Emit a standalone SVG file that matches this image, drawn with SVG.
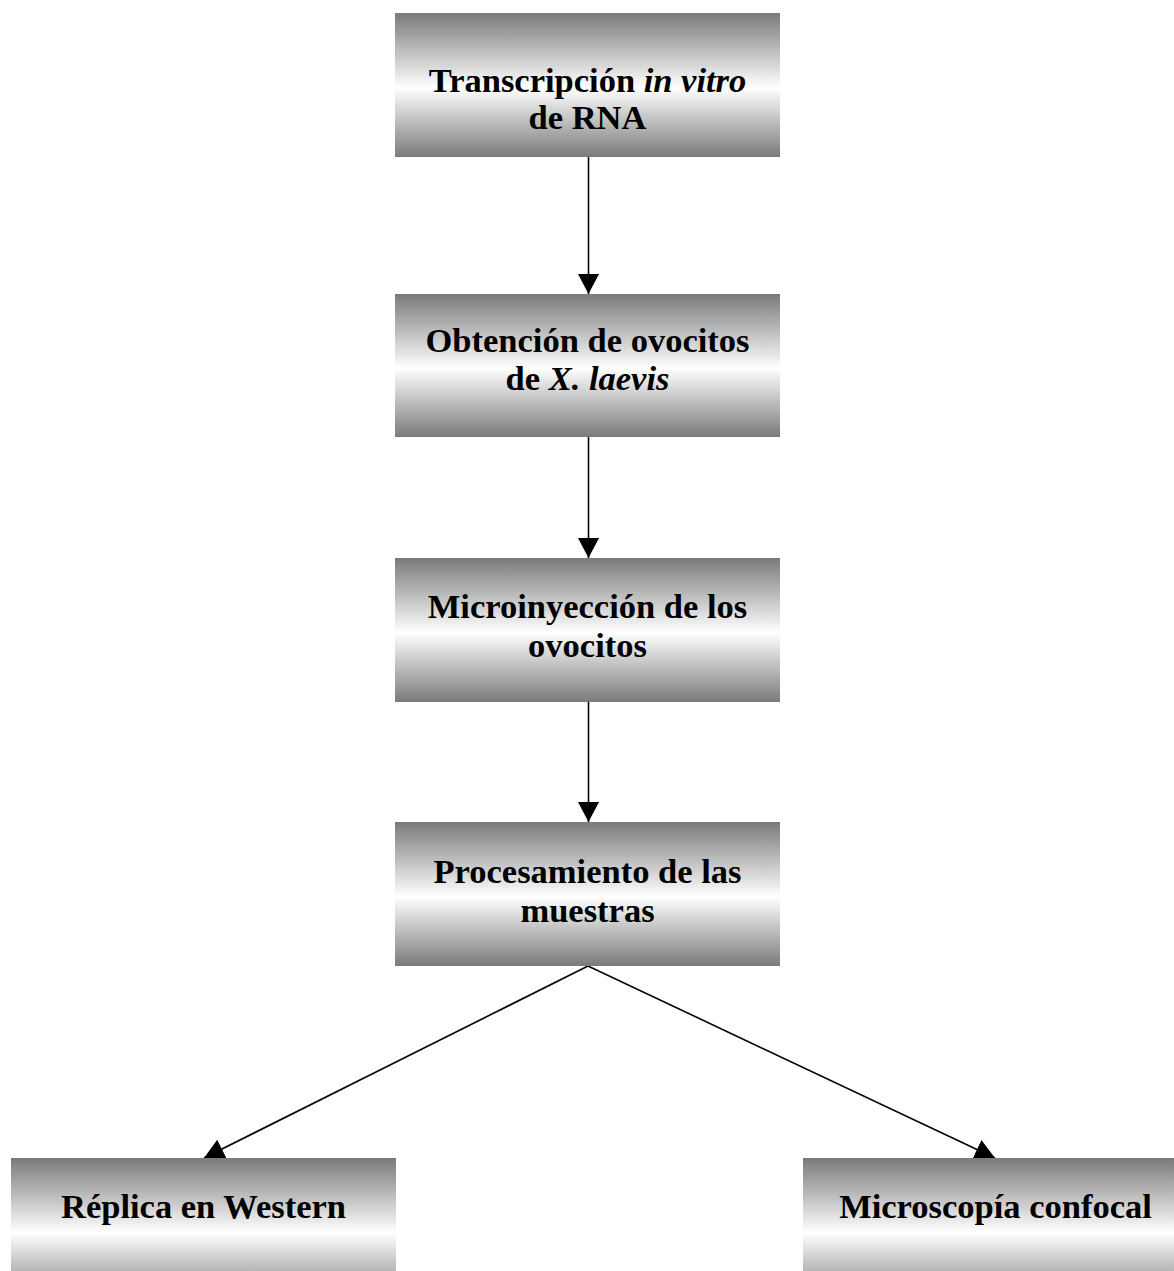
<svg xmlns="http://www.w3.org/2000/svg" width="1174" height="1271" viewBox="0 0 1174 1271">
<style>
.box{fill:url(#g);stroke:none}
.t{font-family:"Liberation Serif","Times New Roman",serif;font-weight:bold;font-size:34.5px;fill:#000;text-anchor:middle}
.i{font-style:italic}
.c{stroke:#000;stroke-width:1.6;fill:none;marker-end:url(#ah)}
</style>
<defs>
<linearGradient id="g" x1="0" y1="0" x2="0" y2="1">
<stop offset="0" stop-color="#7a7a7a"/>
<stop offset="0.52" stop-color="#ffffff"/>
<stop offset="1" stop-color="#7a7a7a"/>
</linearGradient>
<marker id="ah" markerUnits="userSpaceOnUse" markerWidth="21" markerHeight="22" refX="20" refY="10.5" orient="auto" viewBox="0 0 21 22">
<path d="M0,0 L20,10.5 L0,21 z" fill="#000"/>
</marker>
</defs>
<rect width="1174" height="1271" fill="#fff"/>
<g id="connectors">
<line class="c" x1="588.5" y1="157" x2="588.5" y2="294"/>
<line class="c" x1="588.5" y1="437" x2="588.5" y2="558"/>
<line class="c" x1="588.5" y1="702" x2="588.5" y2="822"/>
<line class="c" x1="588" y1="966" x2="204" y2="1158"/>
<line class="c" x1="588" y1="966" x2="995" y2="1158"/>
</g>
<g id="n1">
<rect class="box" x="395" y="13" width="385" height="144"/>
<text class="t" x="587.5" y="92">Transcripción <tspan class="i">in vitro</tspan></text>
<text class="t" x="587.5" y="129">de RNA</text>
</g>
<g id="n2">
<rect class="box" x="395" y="294" width="385" height="143"/>
<text class="t" x="587.5" y="352">Obtención de ovocitos</text>
<text class="t" x="587.5" y="390">de <tspan class="i">X. laevis</tspan></text>
</g>
<g id="n3">
<rect class="box" x="395" y="558" width="385" height="144"/>
<text class="t" x="587.5" y="618">Microinyección de los</text>
<text class="t" x="587.5" y="657">ovocitos</text>
</g>
<g id="n4">
<rect class="box" x="395" y="822" width="385" height="144"/>
<text class="t" x="587.5" y="883">Procesamiento de las</text>
<text class="t" x="587.5" y="922">muestras</text>
</g>
<g id="n5">
<rect class="box" x="11" y="1158" width="385" height="144"/>
<text class="t" x="203.5" y="1218">Réplica en Western</text>
</g>
<g id="n6">
<rect class="box" x="803" y="1158" width="385" height="144"/>
<text class="t" x="995.5" y="1218">Microscopía confocal</text>
</g>
</svg>
